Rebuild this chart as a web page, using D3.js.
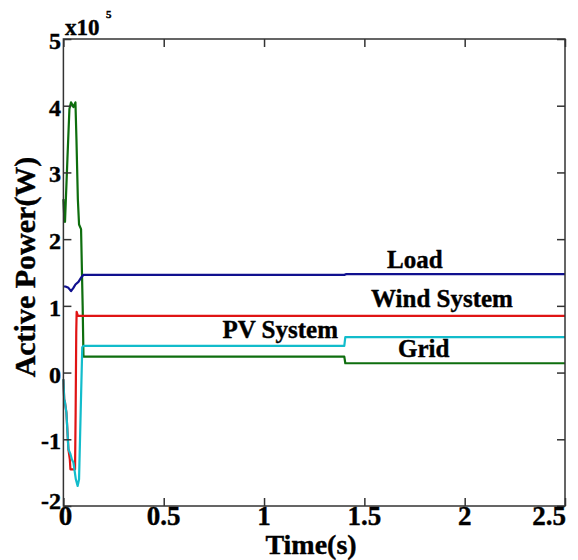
<!DOCTYPE html>
<html>
<head>
<meta charset="utf-8">
<script src="https://cdn.jsdelivr.net/npm/d3@7"></script>
<style>
  html, body { margin: 0; padding: 0; background: #fff; }
  svg text { font-family: "Liberation Serif", "Times New Roman", serif; font-weight: bold; fill: #000; stroke: #000; stroke-width: 0.4px; }
</style>
</head>
<body>
<svg id="chart" width="578" height="560"></svg>
<script>
// ---- Data (values in units of 1e5 W) ----
const xTicks = [0, 0.5, 1, 1.5, 2, 2.5];
const xTickLabels = ["0", "0.5", "1", "1.5", "2", "2.5"];
const yTicks = [-2, -1, 0, 1, 2, 3, 4, 5];
const yTickLabels = ["-2", "-1", "0", "1", "2", "3", "4", "5"];

const loadT = [0, 0.01, 0.025, 0.038, 0.05, 0.06, 0.075, 0.09, 0.1, 1.4, 1.41, 2.5];
const loadV = [1.29, 1.29, 1.27, 1.22, 1.27, 1.32, 1.36, 1.43, 1.465, 1.465, 1.475, 1.475];

const windT = [0, 0.004, 0.008, 0.015, 0.025, 0.032, 0.035, 0.058, 0.061, 0.064, 0.066, 0.072, 0.1, 2.5];
const windV = [-0.1, -0.4, -0.45, -0.6, -1.15, -1.3, -1.45, -1.45, -0.6, 0.6, 0.91, 0.85, 0.85, 0.85];

const pvT = [0, 0.004, 0.008, 0.015, 0.025, 0.035, 0.042, 0.05, 0.062, 0.071, 0.078, 0.086, 0.094, 0.1, 1.4, 1.405, 2.5];
const pvV = [-0.1, -0.4, -0.45, -0.6, -1.15, -1.22, -1.3, -1.35, -1.6, -1.7, -1.6, -0.6, 0.38, 0.40, 0.40, 0.53, 0.53];

const gridT = [0, 0.004, 0.008, 0.02, 0.03, 0.038, 0.05, 0.06, 0.065, 0.072, 0.078, 0.088, 0.096, 0.1, 0.105, 1.4, 1.405, 2.5];
const gridV = [2.6, 2.35, 2.26, 3.2, 3.95, 4.05, 3.98, 4.05, 3.5, 2.6, 2.22, 2.15, 1.0, 0.24, 0.24, 0.24, 0.14, 0.14];

const seriesNames = ["Load", "Wind System", "PV System", "Grid"];
const seriesColors = ["#10108f", "#e01414", "#12bccb", "#0e6e0e"];

// ---- Layout ----
const svg = d3.select("#chart");
const x = d3.scaleLinear().domain([0, 2.5]).range([63.4, 565]);
const y = d3.scaleLinear().domain([-2, 5]).range([506, 39]);

const series = [
  {t: gridT, v: gridV, c: seriesColors[3]},
  {t: windT, v: windV, c: seriesColors[1]},
  {t: pvT, v: pvV, c: seriesColors[2]},
  {t: loadT, v: loadV, c: seriesColors[0]}
];

const line = d3.line().x(d => x(d[0])).y(d => y(d[1]));
const gLines = svg.append("g");
series.forEach(s => {
  const pts = s.t.map((t, i) => [t, s.v[i]]);
  gLines.append("path").datum(pts).attr("d", line)
    .attr("fill", "none").attr("stroke", s.c).attr("stroke-width", 2.2)
    .attr("stroke-linejoin", "round");
});

// ---- Axes (box with inward ticks) ----
const axisColor = "#333";
const tickLen = 8;
const gAx = svg.append("g");
gAx.append("rect").attr("x", x(0)).attr("y", y(5))
  .attr("width", x(2.5) - x(0)).attr("height", y(-2) - y(5))
  .attr("fill", "none").attr("stroke", axisColor).attr("stroke-width", 1.5);

const xAxisB = d3.axisBottom(x).tickValues(xTicks).tickSizeInner(-tickLen).tickSizeOuter(0).tickFormat("");
const xAxisT = d3.axisTop(x).tickValues(xTicks).tickSizeInner(-tickLen).tickSizeOuter(0).tickFormat("");
const yAxisL = d3.axisLeft(y).tickValues(yTicks).tickSizeInner(-tickLen).tickSizeOuter(0).tickFormat("");
const yAxisR = d3.axisRight(y).tickValues(yTicks).tickSizeInner(-tickLen).tickSizeOuter(0).tickFormat("");
[[xAxisB, `translate(0,${y(-2)})`], [xAxisT, `translate(0,${y(5)})`],
 [yAxisL, `translate(${x(0)},0)`], [yAxisR, `translate(${x(2.5)},0)`]].forEach(([ax, tr]) => {
  const g = gAx.append("g").attr("transform", tr).call(ax);
  g.select(".domain").remove();
  g.selectAll("line").attr("stroke", axisColor).attr("stroke-width", 1.5);
});

// tick labels
const lastX = xTicks.length - 1;
svg.append("g").selectAll("text").data(xTicks).join("text")
  .attr("x", (d, i) => i === lastX ? x(d) + 1 : (i === 0 ? x(d) + 2 : x(d)))
  .attr("y", 525)
  .attr("text-anchor", (d, i) => i === lastX ? "end" : "middle")
  .attr("font-size", 27)
  .text((d, i) => xTickLabels[i]);

svg.append("g").selectAll("text").data(yTicks).join("text")
  .attr("x", 61).attr("y", (d, i) => y(d) + (i === 0 ? 3 : 10))
  .attr("text-anchor", "end").attr("font-size", 24)
  .text((d, i) => yTickLabels[i]);

// exponent
svg.append("text").attr("x", 65).attr("y", 35).attr("font-size", 23).text("x10");
svg.append("text").attr("x", 106).attr("y", 18).attr("font-size", 11).text("5");

// axis titles
svg.append("text").attr("x", 311).attr("y", 554).attr("text-anchor", "middle")
  .attr("font-size", 28).text("Time(s)");
svg.append("text").attr("transform", "translate(35,267) rotate(-90)")
  .attr("text-anchor", "middle").attr("font-size", 30).text("Active Power(W)");

// series labels
svg.append("text").attr("x", 387).attr("y", 268).attr("font-size", 25).text(seriesNames[0]);
svg.append("text").attr("x", 371).attr("y", 307).attr("font-size", 25).text(seriesNames[1]);
svg.append("text").attr("x", 338).attr("y", 338).attr("text-anchor", "end").attr("font-size", 25).text(seriesNames[2]);
svg.append("text").attr("x", 398).attr("y", 357).attr("font-size", 25).text(seriesNames[3]);
</script>
</body>
</html>
